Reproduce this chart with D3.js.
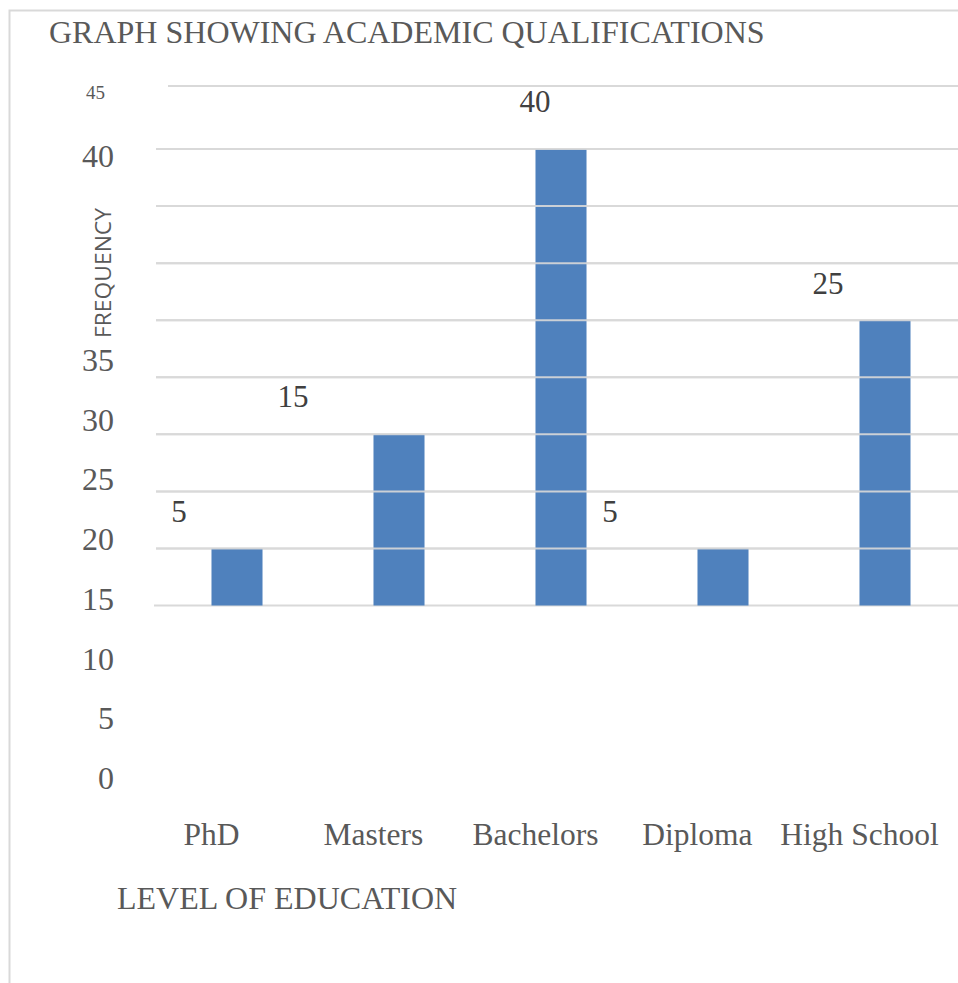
<!DOCTYPE html>
<html>
<head>
<meta charset="utf-8">
<script src="https://cdn.jsdelivr.net/npm/d3@7"></script>
<style>
  body { margin: 0; background: #fff; }
  svg { display: block; }
</style>
</head>
<body>
<svg id="chart"></svg>
<script>
// data
var levels = ['PhD', 'Masters', 'Bachelors', 'Diploma', 'High School'];
var frequency = [5, 15, 40, 5, 25];
var tickValues = [0, 5, 10, 15, 20, 25, 30, 35, 40];
var tickLabels = ['0', '5', '10', '15', '20', '25', '30', '35', '40', '45'];

// the value labels sit off their bars in the original, keep that drift
var labelShiftX = [-58, -106, -26, -113, -57];
var labelShiftY = [-26, -27, -37, -26, -26];

var W = 958, H = 983;
var textColor = '#595959';
var gridColor = '#d9d9d9';
var barColor = '#4f81bd';
var serif = 'Liberation Serif, Times New Roman, serif';

var svg = d3.select('#chart')
    .attr('width', W)
    .attr('height', H);

// frame (left + top edges only are visible)
svg.append('path')
    .attr('d', 'M9.5,' + H + 'V10.5H' + W)
    .attr('fill', 'none')
    .attr('stroke', gridColor)
    .attr('stroke-width', 2);

var x = d3.scaleBand()
    .domain(levels)
    .range([156, 966])
    .paddingInner(0.685)
    .paddingOuter(0.3425);

var y = d3.scaleLinear()
    .domain([0, 40])
    .range([605.5, 149]);

// tick labels are spaced on their own, wider grid
var yLabel = d3.scaleLinear()
    .domain([0, 35])
    .range([789, 371]);

// gridlines
svg.append('g')
    .selectAll('line')
    .data(tickValues)
    .enter()
    .append('line')
    .attr('x1', function(d) { return d === 0 ? 154 : 156; })
    .attr('x2', W)
    .attr('y1', function(d) { return y(d); })
    .attr('y2', function(d) { return y(d); })
    .attr('stroke', gridColor)
    .attr('stroke-width', 2);

// top edge of plot area (45)
svg.append('line')
    .attr('x1', 168)
    .attr('x2', W)
    .attr('y1', 86)
    .attr('y2', 86)
    .attr('stroke', gridColor)
    .attr('stroke-width', 2);

// bars
svg.append('g')
    .selectAll('rect')
    .data(frequency)
    .enter()
    .append('rect')
    .attr('x', function(d, i) { return x(levels[i]); })
    .attr('y', function(d) { return y(d); })
    .attr('width', x.bandwidth())
    .attr('height', function(d) { return y(0) - y(d); })
    .attr('fill', barColor);

// gridlines show through bars in the original
svg.append('g')
    .selectAll('line')
    .data(tickValues.filter(function(d) { return d > 0; }))
    .enter()
    .append('line')
    .attr('x1', 156)
    .attr('x2', W)
    .attr('y1', function(d) { return y(d); })
    .attr('y2', function(d) { return y(d); })
    .attr('stroke', gridColor)
    .attr('stroke-width', 2)
    .attr('opacity', 0.9);

// y tick labels
svg.append('g')
    .selectAll('text')
    .data(tickLabels)
    .enter()
    .append('text')
    .text(function(d) { return d; })
    .attr('x', function(d) { return d === '45' ? 105 : 114; })
    .attr('y', function(d) {
        if (d === '45') return 86 + 13;
        if (d === '40') return y(40) + 18;
        return yLabel(+d);
    })
    .attr('text-anchor', 'end')
    .attr('font-family', serif)
    .attr('font-size', function(d) { return d === '45' ? 19 : 32; })
    .attr('fill', textColor);

// value labels
svg.append('g')
    .selectAll('text')
    .data(frequency)
    .enter()
    .append('text')
    .text(function(d) { return d; })
    .attr('x', function(d, i) { return x(levels[i]) + x.bandwidth() / 2 + labelShiftX[i]; })
    .attr('y', function(d, i) { return y(d) + labelShiftY[i]; })
    .attr('text-anchor', 'middle')
    .attr('font-family', serif)
    .attr('font-size', 31)
    .attr('fill', '#404040');

// category labels
svg.append('g')
    .selectAll('text')
    .data(levels)
    .enter()
    .append('text')
    .text(function(d) { return d; })
    .attr('x', function(d) { return x(d); })
    .attr('y', 845)
    .attr('text-anchor', 'middle')
    .attr('font-family', serif)
    .attr('font-size', 31.5)
    .attr('fill', textColor);

// title
svg.append('text')
    .text('GRAPH SHOWING ACADEMIC QUALIFICATIONS')
    .attr('x', 49)
    .attr('y', 43)
    .attr('font-family', serif)
    .attr('font-size', 32)
    .attr('fill', textColor);

// axis titles
svg.append('text')
    .text('LEVEL OF EDUCATION')
    .attr('x', 117)
    .attr('y', 909)
    .attr('font-family', serif)
    .attr('font-size', 32)
    .attr('fill', textColor);

svg.append('text')
    .text('FREQUENCY')
    .attr('transform', 'translate(111,273) rotate(-90)')
    .attr('text-anchor', 'middle')
    .attr('font-family', 'Open Sans, Liberation Sans, sans-serif')
    .attr('font-size', 22)
    .attr('textLength', 130)
    .attr('lengthAdjust', 'spacingAndGlyphs')
    .attr('fill', textColor);
</script>
</body>
</html>
